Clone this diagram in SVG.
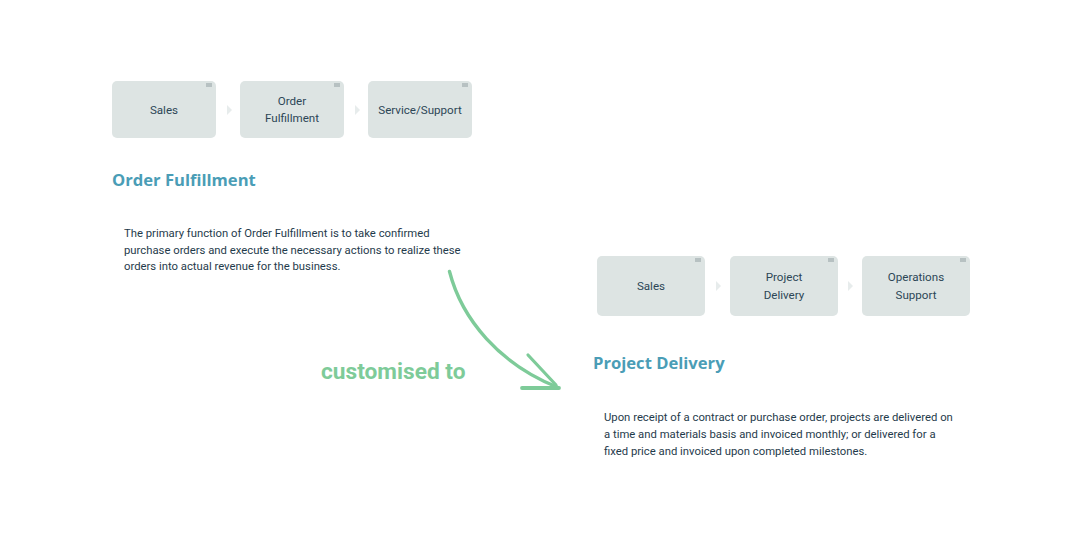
<svg xmlns="http://www.w3.org/2000/svg" width="1080" height="540" viewBox="0 0 1080 540">
<defs>
<style>
.box{fill:#dde4e3;}
.ico{fill:#b7c1c2;}
.chev{fill:#e7ecec;}
.lbl{font-family:Roboto,"Liberation Sans",sans-serif;font-size:11.6px;fill:#2c4656;text-anchor:middle;}
.hd{font-family:"Open Sans","Liberation Sans",sans-serif;font-size:16.6px;font-weight:700;fill:#4a9db6;}
.para{font-family:Roboto,"Liberation Sans",sans-serif;font-size:11.3px;fill:#1f3b4c;}
.green{font-family:Roboto,"Liberation Sans",sans-serif;font-size:22.7px;font-weight:700;fill:#7ecb99;}
.arr{fill:none;stroke:#7ecb99;stroke-linecap:round;stroke-linejoin:round;}
</style>
</defs>
<rect width="1080" height="540" fill="#ffffff"/>

<g id="top-sales">
<rect class="box" x="112" y="81" width="104" height="57" rx="5"/>
<rect class="ico" x="206" y="83" width="6" height="4"/>
<text class="lbl" x="164" y="114">Sales</text>
</g>
<g id="top-order-fulfillment">
<rect class="box" x="240" y="81" width="104" height="57" rx="5"/>
<rect class="ico" x="334" y="83" width="6" height="4"/>
<text class="lbl" x="292" y="105">Order</text>
<text class="lbl" x="292" y="122">Fulfillment</text>
</g>
<g id="top-service-support">
<rect class="box" x="368" y="81" width="104" height="57" rx="5"/>
<rect class="ico" x="462" y="83" width="6" height="4"/>
<text class="lbl" x="420" y="114">Service/Support</text>
</g>

<g id="bottom-sales">
<rect class="box" x="597" y="256" width="108" height="60" rx="5"/>
<rect class="ico" x="695" y="258" width="6" height="4"/>
<text class="lbl" x="651" y="290">Sales</text>
</g>
<g id="bottom-project-delivery">
<rect class="box" x="730" y="256" width="108" height="60" rx="5"/>
<rect class="ico" x="828" y="258" width="6" height="4"/>
<text class="lbl" x="784" y="281">Project</text>
<text class="lbl" x="784" y="299">Delivery</text>
</g>
<g id="bottom-operations-support">
<rect class="box" x="862" y="256" width="108" height="60" rx="5"/>
<rect class="ico" x="960" y="258" width="6" height="4"/>
<text class="lbl" x="916" y="281">Operations</text>
<text class="lbl" x="916" y="299">Support</text>
</g>

<g id="connectors">
<polygon class="chev" points="227,105 232,110 227,115"/>
<polygon class="chev" points="355,105 360,110 355,115"/>
<polygon class="chev" points="716,281 721,286 716,291"/>
<polygon class="chev" points="848,281 853,286 848,291"/>
<path class="arr" stroke-width="3.4" d="M449.5,271.5 C462,320 500,364 557,387"/>
<path class="arr" stroke-width="3.2" d="M528,355 L556,385"/>
<path class="arr" stroke-width="3.8" d="M522,388 L559,388"/>
</g>

<g id="texts">
<text class="hd" x="112" y="186">Order Fulfillment</text>
<text class="para" x="124" y="237">The primary function of Order Fulfillment is to take confirmed</text>
<text class="para" x="124" y="254">purchase orders and execute the necessary actions to realize these</text>
<text class="para" x="124" y="270">orders into actual revenue for the business.</text>
<text class="green" x="321" y="379">customised to</text>
<text class="hd" x="593" y="369">Project Delivery</text>
<text class="para" x="604" y="421">Upon receipt of a contract or purchase order, projects are delivered on</text>
<text class="para" x="604" y="438">a time and materials basis and invoiced monthly; or delivered for a</text>
<text class="para" x="604" y="455">fixed price and invoiced upon completed milestones.</text>
</g>
</svg>
